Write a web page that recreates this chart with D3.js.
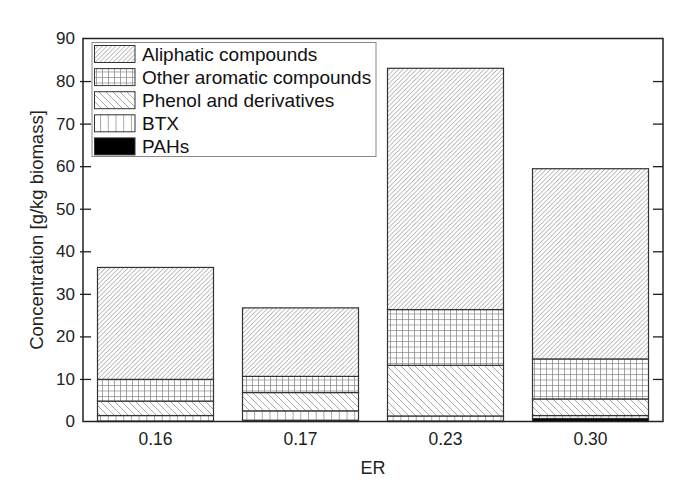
<!DOCTYPE html>
<html><head><meta charset="utf-8">
<script src="https://cdn.jsdelivr.net/npm/d3@7/dist/d3.min.js"></script>
<style>body{margin:0;background:#fff}svg{display:block}text{font-family:"Liberation Sans",Arial,sans-serif}</style>
</head><body>
<svg id="c" width="680" height="480"></svg>
<script>
const categories = ["0.16","0.17","0.23","0.30"];
const seriesNames = ["PAHs","BTX","Phenol and derivatives","Other aromatic compounds","Aliphatic compounds"];
const pahs      = [0.1, 0.3, 0.1, 0.7];
const btx       = [1.3, 2.2, 1.2, 0.7];
const phenol    = [3.4, 4.3, 11.9, 3.9];
const otherArom = [5.1, 3.8, 13.1, 9.4];
const aliphatic = [26.3, 16.1, 56.7, 44.7];
const yTicks = [0,10,20,30,40,50,60,70,80,90];
const legendOrder = ["Aliphatic compounds","Other aromatic compounds","Phenol and derivatives","BTX","PAHs"];

const svg = d3.select("#c");
const m = {l:83, r:17, t:38.5, b:58.5};
const W = 680, H = 480;
const x = d3.scaleBand().domain(categories).range([m.l, W-m.r]).paddingInner(0.2).paddingOuter(0.1);
const y = d3.scaleLinear().domain([0,90]).range([H-m.b, m.t]);

// patterns
const defs = svg.append("defs");
const pc = "#8a8a8a";
const pw = 0.75;
function pat(id, w, h, drawFn){
  const p = defs.append("pattern").attr("id",id).attr("patternUnits","userSpaceOnUse").attr("width",w).attr("height",h);
  p.append("rect").attr("width",w).attr("height",h).attr("fill","#fff");
  drawFn(p);
}
pat("pAli",4.5,4.5,p=>{
  p.append("path").attr("d","M0,4.5 L4.5,0 M-1,1 L1,-1 M3.5,5.5 L5.5,3.5").attr("stroke",pc).attr("stroke-width",pw);
});
pat("pOth",6,5.5,p=>{
  p.append("path").attr("d","M0,0.5 H6 M0.5,0 V5.5").attr("stroke",pc).attr("stroke-width",pw);
});
pat("pPhe",7,7,p=>{
  p.append("path").attr("d","M0,0 L7,7 M-1,6 L1,8 M6,-1 L8,1").attr("stroke",pc).attr("stroke-width",pw);
});
pat("pBtx",7.7,10,p=>{
  p.append("path").attr("d","M0.5,0 V10").attr("stroke",pc).attr("stroke-width",pw);
});
const fills = {"PAHs":"#000","BTX":"url(#pBtx)","Phenol and derivatives":"url(#pPhe)","Other aromatic compounds":"url(#pOth)","Aliphatic compounds":"url(#pAli)"};
const vals = {"PAHs":pahs,"BTX":btx,"Phenol and derivatives":phenol,"Other aromatic compounds":otherArom,"Aliphatic compounds":aliphatic};

const table = categories.map((c,i)=>{const o={cat:c}; seriesNames.forEach(s=>o[s]=vals[s][i]); return o;});
const stack = d3.stack().keys(seriesNames)(table);

const g = svg.append("g");
stack.forEach(layer=>{
  g.selectAll(null).data(layer).join("rect")
    .attr("x",d=>x(d.data.cat))
    .attr("width",x.bandwidth())
    .attr("y",d=>y(d[1]))
    .attr("height",d=>y(d[0])-y(d[1]))
    .attr("fill",fills[layer.key])
    .attr("stroke","#333").attr("stroke-width",1.2);
});

// frame
svg.append("rect").attr("x",m.l).attr("y",m.t).attr("width",W-m.l-m.r).attr("height",H-m.t-m.b)
  .attr("fill","none").attr("stroke","#222").attr("stroke-width",1.5);

// y axis left
const yl = svg.append("g").attr("transform",`translate(${m.l},0)`)
  .call(d3.axisLeft(y).tickValues(yTicks).tickSize(3).tickPadding(7));
yl.select(".domain").remove();
yl.selectAll(".tick line").attr("x2",-3).attr("x1",8).attr("stroke","#222").attr("stroke-width",1.3);
yl.selectAll(".tick text").attr("font-size",17).attr("fill","#222").attr("x",-8);
yl.selectAll(".tick").filter(d=>d===0||d===90).select("line").remove();

// right ticks
const yr = svg.append("g").attr("transform",`translate(${W-m.r},0)`)
  .call(d3.axisRight(y).tickValues(yTicks).tickSize(-10).tickFormat(""));
yr.select(".domain").remove();
yr.selectAll(".tick line").attr("stroke","#222").attr("stroke-width",1.3);
yr.selectAll(".tick").filter(d=>d===0||d===90).select("line").remove();

// x axis labels
const xa = svg.append("g").attr("transform",`translate(0,${H-m.b})`)
  .call(d3.axisBottom(x).tickSize(0).tickPadding(11));
xa.select(".domain").remove();
xa.selectAll(".tick text").attr("font-size",17.5).attr("fill","#222");

svg.append("text").attr("x",(m.l+W-m.r)/2).attr("y",474).attr("text-anchor","middle")
  .attr("font-size",18).attr("fill","#222").text("ER");
svg.append("text").attr("transform",`translate(43,${(m.t+H-m.b)/2}) rotate(-90)`).attr("text-anchor","middle")
  .attr("font-size",18.5).attr("fill","#222").text("Concentration [g/kg biomass]");

// legend
const lg = svg.append("g");
lg.append("rect").attr("x",92).attr("y",42.5).attr("width",284).attr("height",114)
  .attr("fill","#fff").attr("stroke","#888").attr("stroke-width",1);
legendOrder.forEach((s,i)=>{
  const cy = 54 + i*23.1;
  lg.append("rect").attr("x",94.5).attr("y",cy-8.5).attr("width",40.5).attr("height",17)
    .attr("fill",fills[s]).attr("stroke","#333").attr("stroke-width",1);
  lg.append("text").attr("x",142).attr("y",cy+6.5).attr("font-size",19).attr("fill","#111").text(s);
});
</script>
</body></html>
